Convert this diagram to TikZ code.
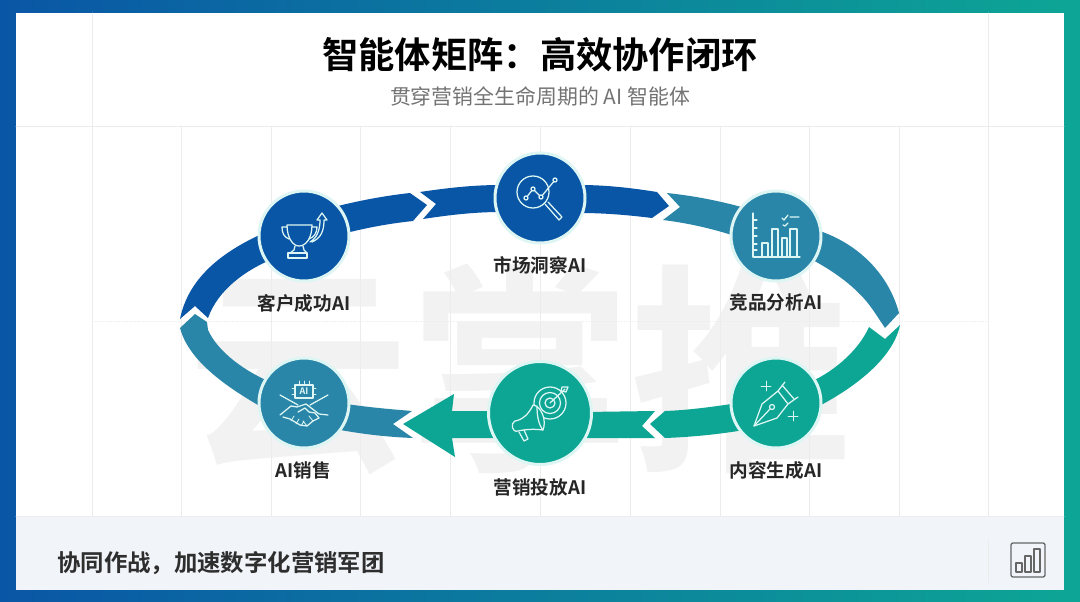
\documentclass[tikz,border=0pt]{standalone}
\usepackage{fontspec}
\setmainfont{Noto Sans CJK SC}
\newfontfamily\boldcjk{Noto Sans CJK SC Bold}
\definecolor{cblue}{HTML}{0A56A6}
\definecolor{cmid}{HTML}{2A86A9}
\definecolor{cteal}{HTML}{0DA695}
\definecolor{chalo}{HTML}{DDF6F4}
\definecolor{cfoot}{HTML}{F1F4F9}
\definecolor{cgrid}{HTML}{ECECEC}
\definecolor{cmark}{HTML}{F2F2F2}
\tikzset{
	hub/.style={circle,inner sep=0pt,minimum size=90pt,line width=3pt,draw=chalo},
	hublabel/.style={inner sep=0pt,text=black!85,font=\boldcjk\fontsize{18.6}{19}\selectfont},
	icon/.style={draw=chalo,line width=1.25pt,line cap=round,line join=round},
	gridline/.style={draw=cgrid,line width=.7pt}
}
\begin{document}
\begin{tikzpicture}[x=1pt,y=-1pt,line join=round,line cap=round]
	\useasboundingbox (0,0) rectangle (1080,602);
	\shade[left color=cblue,middle color=cmid!85!cblue,right color=cteal] (0,0) rectangle (1080,602);
	\fill[white] (16,13) rectangle (1064,516);
	\fill[cfoot] (16,516) rectangle (1064,590);

	\node (mark) at (520,369) [inner sep=0pt,text=cmark,font=\boldcjk\fontsize{222}{222}\selectfont] {云掌推};

	\foreach \x in {92,181,271,360,450,540,630,720,809,899,988}
		\draw[gridline] (\x,126) -- (\x,516);
	\draw[gridline] (92,13) -- (92,126) (988,13) -- (988,126);
	\draw[gridline] (16,126) -- (1064,126);
	\draw[gridline] (16,516) -- (1064,516);
	\draw[gridline,dotted] (92,321) -- (988,321);
	\draw[gridline] (988,540) -- (988,583);

	\node (title) at (540,55) [inner sep=0pt,text=black,font=\boldcjk\fontsize{36.3}{38}\selectfont] {智能体矩阵\char"FF1A 高效协作闭环};
	\node (subtitle) at (540,96) [inner sep=0pt,text=black!55,font=\fontsize{20.9}{22}\selectfont] {贯穿营销全生命周期的 AI 智能体};
	\node (slogan) at (57,563) [anchor=west,inner sep=0pt,text=black!82,font=\boldcjk\fontsize{23.4}{25}\selectfont] {协同作战\char"FF0C 加速数字化营销军团};

	% ring
	\fill[cblue] (180,319) .. controls (190,270) and (235,245) .. (275,228) -- (275,258) .. controls (245,270) and (218,290) .. (208,318) -- (195,306) -- cycle;
	\fill[cblue] (330,208) .. controls (357,201) and (383,196) .. (410,193) -- (427,205) -- (413,221) .. controls (385,224) and (360,229) .. (335,236) -- cycle;
	\fill[cblue] (420,192) .. controls (447,188) and (473,185) .. (500,185) -- (500,212) .. controls (475,212) and (449,215) .. (423,219) -- (436,204) -- cycle;
	\fill[cblue] (580,185) .. controls (606,185) and (632,188) .. (657,192) -- (669,206) -- (652,218) .. controls (628,215) and (604,213) .. (580,213) -- cycle;
	\fill[cmid] (667,193) .. controls (695,196) and (720,201) .. (745,208) -- (735,236) .. controls (710,228) and (687,223) .. (663,220) -- (680,207) -- cycle;
	\fill[cmid] (810,228) .. controls (855,240) and (888,272) .. (899,313) -- (885,328) -- (873,310) .. controls (858,288) and (833,270) .. (805,256) -- cycle;
	\fill[cteal] (900,325) .. controls (893,360) and (850,392) .. (805,413) -- (805,384) .. controls (830,375) and (858,352) .. (869,327) -- (885,339) -- cycle;
	\fill[cteal] (745,402) .. controls (718,406) and (692,410) .. (665,411) -- (650,424) -- (665,438) .. controls (693,437) and (722,434) .. (750,429) -- cycle;
	\fill[cteal] (655,411) -- (585,412) -- (585,438) -- (655,438) -- (642,426) -- cycle;
	\fill[cteal] (495,411) -- (452,411) -- (454,394) -- (403,424) -- (455,457) -- (452,438) -- (495,438) -- cycle;
	\fill[cmid] (340,403) .. controls (365,407) and (388,409) .. (412,411) -- (393,424) -- (413,438) .. controls (387,437) and (361,434) .. (335,429) -- cycle;
	\fill[cmid] (180,328) .. controls (190,365) and (235,392) .. (270,412) -- (275,384) .. controls (245,372) and (218,352) .. (208,330) -- (207,322) -- (195,314) -- cycle;

	% hubs
	\node[hub,fill=cblue] (chenggong) at (304,236) {};
	\node[hub,fill=cblue] (dongcha) at (540,198) {};
	\node[hub,fill=cmid] (jingpin) at (776,236) {};
	\node[hub,fill=cteal] (neirong) at (776,403) {};
	\node[hub,fill=cteal,minimum size=103pt] (toufang) at (540,413) {};
	\node[hub,fill=cmid] (xiaoshou) at (304,403) {};

	\node[hublabel] (lchenggong) at (304,303) {客户成功AI};
	\node[hublabel] (ldongcha) at (540,265) {市场洞察AI};
	\node[hublabel] (ljingpin) at (776,302) {竞品分析AI};
	\node[hublabel] (lneirong) at (776,470) {内容生成AI};
	\node[hublabel] (ltoufang) at (540,487) {营销投放AI};
	\node[hublabel] (lxiaoshou) at (303,470) {AI销售};

	% trophy
	\draw[icon] (287,225) -- (312,225) .. controls (312,238) and (306,246) .. (299,246) .. controls (293,246) and (287,238) .. (287,225);
	\draw[icon] (287,227) -- (282,227) .. controls (282,233) and (284,237) .. (289,239);
	\draw[icon] (312,227) -- (317,227) .. controls (317,233) and (314,237) .. (309,239);
	\draw[icon] (295,246) -- (294,250) -- (290,253) (303,246) -- (304,250) -- (307,253);
	\draw[icon] (288,253) rectangle (307,258);
	\draw[icon] (310,242) .. controls (317,238) and (320,230) .. (320,220) -- (317,220) -- (322,213) -- (327,220) -- (324,220) .. controls (324,231) and (321,238) .. (312,242);

	% magnifier
	\draw[icon] (533,192) circle (16);
	\draw[icon] (545,204) -- (559,220) -- (562,217) -- (548,202);
	\draw[icon] (526,198) -- (533,189) -- (541,197) -- (555,180);
	\foreach \p in {(526,198),(533,189),(541,197),(555,180)}
		\draw[icon,fill=cblue] \p circle (2);

	% bars
	\draw[icon] (753,213) -- (753,257) -- (800,257);
	\foreach \y in {220,228,236,244,250}
		\draw[icon] (753,\y) -- (757,\y);
	\draw[icon] (762,257) -- (762,243) -- (768,243) -- (768,257);
	\draw[icon] (772,257) -- (772,229) -- (778,229) -- (778,257);
	\draw[icon] (782,257) -- (782,238) -- (787,238) -- (787,257);
	\draw[icon] (790,257) -- (790,229) -- (797,229) -- (797,257);
	\draw[icon] (782,218) -- (784,220) -- (788,215) (790,217) -- (799,217);
	\draw[icon] (783,225) -- (785,226) -- (788,223);

	% pen
	\draw[icon] (754,426) -- (762,404) -- (778,391) -- (788,404) -- (777,418) -- cycle;
	\draw[icon] (754,426) -- (770,409);
	\draw[icon] (772,407) circle (2.5);
	\draw[icon] (778,391) -- (785,382) (788,404) -- (798,397) (782,385) -- (794,399);
	\foreach \c/\s in {766/386,793/416}
		\draw[icon,line width=.8pt] (\c,\s-5) -- (\c,\s+5) (\c-5,\s) -- (\c+5,\s);

	% target and megaphone
	\draw[icon] (550,403) circle (5) circle (10.5) circle (16);
	\draw[icon] (550,403) -- (565,389) (562,387) -- (561,391) -- (566,392) -- (568,387) -- cycle;
	\draw[icon,fill=cteal] (533,405) .. controls (529,414) and (522,420) .. (515,421) .. controls (510,423) and (512,433) .. (518,431) .. controls (527,429) and (536,429) .. (543,430) .. controls (547,420) and (541,406) .. (533,405) -- cycle;
	\draw[icon] (537,406) .. controls (537,414) and (538,424) .. (543,430);
	\draw[icon] (519,432) -- (524,441) -- (528,439) -- (524,430);

	% handshake
	\draw[icon] (295,385) rectangle (313,398);
	\foreach \x in {299,304,309}
		\draw[icon,line width=.8pt] (\x,381) -- (\x,385);
	\foreach \y in {388,394}
		\draw[icon,line width=.8pt] (292,\y) -- (295,\y) (313,\y) -- (316,\y);
	\node (chip) at (304,391.5) [inner sep=0pt,text=chalo,font=\boldcjk\fontsize{9}{9}\selectfont] {AI};
	\draw[icon] (280,395) -- (298,405) (328,395) -- (310,405);
	\draw[icon] (280,415) -- (291,406) -- (297,407) -- (306,404) -- (319,414) -- (328,415);
	\draw[icon] (298,412) -- (305,408) -- (309,412) -- (315,413) -- (319,418) -- (313,421) -- (307,426) -- (300,425) -- (290,419) -- (283,417);
	\draw[icon,line width=.8pt] (294,416) -- (291,421) (299,419) -- (296,424) (304,421) -- (301,426) (313,421) -- (309,416) (307,426) -- (303,421);

	% footer icon
	\draw[black!60,line width=1.3pt,rounded corners=2pt] (1011,543) rectangle (1045,577);
	\draw[black!60,line width=1.1pt] (1016,572) rectangle (1022,563) (1025,572) rectangle (1031,556) (1034,572) rectangle (1040,549);
\end{tikzpicture}
\end{document}
